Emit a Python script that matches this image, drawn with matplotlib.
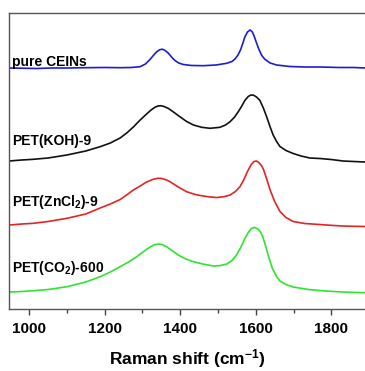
import matplotlib
matplotlib.use('Agg')
from matplotlib import pyplot as plt
from matplotlib.ticker import MultipleLocator

# Raman spectra, offset vertically (arbitrary units)
wn_cein = [947, 980, 1020, 1060, 1100, 1150, 1200, 1241, 1270, 1294, 1308, 1320, 1330, 1338,
           1346, 1353, 1360, 1369, 1377, 1386, 1396, 1408, 1430, 1461, 1495, 1523, 1537, 1545,
           1553, 1560, 1566, 1571, 1578, 1585, 1591, 1596, 1602, 1609, 1616, 1624, 1638, 1655,
           1690, 1730, 1770, 1820, 1860, 1889]
int_cein = [252, 251.8, 251.5, 252, 252, 252.3, 252.5, 252.3, 252.5, 253.3, 256, 260.5, 265, 268.3,
            270.3, 270.8, 269.5, 266.7, 263, 259.5, 257, 255.5, 254.5, 254.3, 255, 256.7, 258.5, 261,
            265, 270.5, 277, 283, 288, 290, 288, 283.5, 277, 270, 264.5, 260.7, 257, 255,
            253.5, 253, 253, 252.5, 252.5, 252]

wn_koh = [947, 980, 1011, 1050, 1100, 1150, 1188, 1215, 1241, 1260, 1276, 1294, 1311, 1323,
          1333, 1341, 1348, 1356, 1369, 1384, 1399, 1417, 1435, 1457, 1479, 1505, 1520, 1532,
          1544, 1554, 1563, 1571, 1580, 1587, 1594, 1602, 1611, 1620, 1629, 1638, 1646, 1655,
          1664, 1680, 1699, 1720, 1743, 1770, 1800, 1831, 1860, 1889]
int_koh = [159, 160, 160.7, 162, 165, 169, 173.3, 177, 182, 187.5, 193, 200, 206, 210,
           212.7, 214, 214.3, 213.7, 211.5, 207.5, 203.3, 198.5, 195, 192.7, 191.7, 192.7, 195, 198.3,
           203, 208.5, 214, 219.5, 223.5, 225, 224.8, 223, 219.5, 212, 203, 193, 185, 178.5,
           173.5, 169.5, 166.5, 164, 162, 161.5, 160.5, 159, 158.5, 158]

wn_zncl = [947, 980, 1011, 1050, 1100, 1150, 1188, 1215, 1241, 1260, 1276, 1294, 1311, 1329,
           1340, 1350, 1362, 1373, 1395, 1417, 1440, 1461, 1480, 1497, 1515, 1532, 1546, 1558,
           1568, 1575, 1580, 1588, 1595, 1602, 1608, 1614, 1620, 1628, 1638, 1650, 1664, 1680,
           1699, 1730, 1770, 1787, 1830, 1889]
int_zncl = [95, 96, 96.7, 98.5, 101.7, 106, 112, 116, 120.5, 125.5, 130, 134, 138, 140.8,
            141.7, 141.6, 140.3, 138.3, 133, 128.3, 125.5, 124, 123, 122.5, 123.3, 125, 128.5, 133.3,
            140, 146, 150, 155.5, 158.5, 159, 157.5, 155, 151, 142, 130, 118.5, 108.5, 102.5,
            98.5, 96.5, 95.5, 95, 94, 93.5]

wn_co2 = [947, 980, 1011, 1050, 1100, 1150, 1188, 1215, 1241, 1263, 1285, 1303, 1320, 1332,
          1342, 1352, 1364, 1380, 1395, 1415, 1435, 1460, 1488, 1506, 1523, 1537, 1549, 1560,
          1571, 1580, 1588, 1596, 1604, 1611, 1618, 1626, 1633, 1644, 1655, 1664, 1680, 1699,
          1740, 1787, 1830, 1889]
int_co2 = [28, 28.5, 29.3, 30.5, 33.3, 38, 43.3, 48, 53.3, 58, 63.3, 68.5, 73, 75.3,
           76, 75.5, 73.3, 69, 65, 61, 58.3, 56, 54, 54.5, 56, 59.5, 65, 72.5,
           81.5, 87.5, 91.5, 92.7, 91.5, 89, 84, 74, 64.5, 51.5, 43.5, 39, 35.5, 33,
           30.5, 29, 28, 27.3]

labels = ['pure CEINs', 'PET(KOH)-9', r'PET(ZnCl$_2$)-9', r'PET(CO$_2$)-600']
label_y = [258, 179, 118, 52]
colors = ['#1c1cd8', '#111111', '#e42424', '#2fe42f']

plt.rcParams['font.family'] = ['Liberation Sans', 'DejaVu Sans']
plt.rcParams['font.weight'] = 'bold'
plt.rcParams['mathtext.fontset'] = 'custom'
plt.rcParams['mathtext.rm'] = 'Liberation Sans:bold'
plt.rcParams['mathtext.bf'] = 'Liberation Sans:bold'
plt.rcParams['mathtext.default'] = 'rm'

fig = plt.figure(figsize=(3.65, 3.71), dpi=100)
ax = fig.add_axes([0.0247, 0.167, 0.9753, 0.798])

spectra = [(wn_cein, int_cein), (wn_koh, int_koh), (wn_zncl, int_zncl), (wn_co2, int_co2)]
for (wn, inten), c in zip(spectra, colors):
    ax.plot(wn, inten, color=c, lw=1.2, solid_joinstyle='round')

for lab, y in zip(labels, label_y):
    ax.text(955, y, lab, fontsize=10, fontweight='bold', ha='left', va='center')

ax.set_xlim(947, 1889)
ax.set_ylim(11, 307)
ax.xaxis.set_major_locator(MultipleLocator(200))
ax.xaxis.set_minor_locator(MultipleLocator(100))
ax.tick_params(axis='x', which='major', direction='out', length=4, width=1, pad=5,
               labelsize=11, color='#444444')
ax.tick_params(axis='x', which='minor', direction='out', length=3, width=1, color='#444444')
ax.tick_params(axis='y', left=False, labelleft=False)
for lbl in ax.get_xticklabels():
    lbl.set_fontweight('bold')
for side in ['left', 'bottom', 'top']:
    ax.spines[side].set_color('#555555')
    ax.spines[side].set_linewidth(1.0)
ax.spines['right'].set_visible(False)

ax.set_xlabel(r'Raman shift (cm$^{-1}$)', fontsize=12.5, fontweight='bold', labelpad=8)

fig.savefig('out.png', dpi=100)
